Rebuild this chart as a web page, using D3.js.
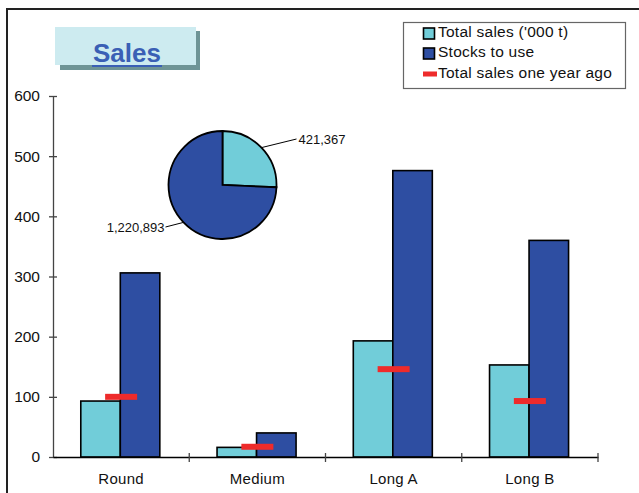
<!DOCTYPE html>
<html><head><meta charset="utf-8">
<script src="https://cdn.jsdelivr.net/npm/d3@7"></script>
<style>body{margin:0;background:#fff}svg{display:block;font-family:Arial,"Liberation Sans",sans-serif}</style>
</head><body>
<svg id="c" width="639" height="493"></svg>
<script>
const categories = ["Round", "Medium", "Long A", "Long B"];
const totalSales = [93, 16, 193, 153];
const stocksToUse = [306, 40, 476, 360];
const salesYearAgo = [100, 17, 146, 93];
const yTicks = [0, 100, 200, 300, 400, 500, 600];
const pieLabels = ["421,367", "1,220,893"];
const pieValues = [421367, 1220893];
const legendLabels = ["Total sales ('000 t)", "Stocks to use", "Total sales one year ago"];

const colLight = "#71CDD9", colDark = "#2E4EA2", colRed = "#EE2B2B";
const svg = d3.select("#c");

// outer frame
svg.append("path").attr("d", "M7,493 V9 H639").attr("fill", "none").attr("stroke", "#222").attr("stroke-width", 2);

const x = d3.scaleBand().domain(categories).range([53, 598]).padding(0);
const y = d3.scaleLinear().domain([0, 600]).range([457, 96]);
const bw = x.bandwidth();

// bars
const g = svg.append("g");
g.selectAll("rect.l").data(categories).join("rect")
  .attr("x", (d) => x(d) + bw * 0.204).attr("width", bw * 0.29)
  .attr("y", (d, i) => y(totalSales[i])).attr("height", (d, i) => y(0) - y(totalSales[i]))
  .attr("fill", colLight).attr("stroke", "#000").attr("stroke-width", 1.6);
g.selectAll("rect.d").data(categories).join("rect")
  .attr("x", (d) => x(d) + bw * 0.494).attr("width", bw * 0.29)
  .attr("y", (d, i) => y(stocksToUse[i])).attr("height", (d, i) => y(0) - y(stocksToUse[i]))
  .attr("fill", colDark).attr("stroke", "#000").attr("stroke-width", 1.6);
g.selectAll("rect.r").data(categories).join("rect")
  .attr("x", (d) => x(d) + bw / 2 - 16).attr("width", 32)
  .attr("y", (d, i) => y(salesYearAgo[i]) - 3).attr("height", 6)
  .attr("fill", colRed);

// axes
const yAxis = svg.append("g").attr("transform", "translate(53,0)")
  .call(d3.axisLeft(y).tickValues(yTicks).tickSize(4).tickSizeOuter(0));
yAxis.select(".domain").attr("stroke", "#444").attr("stroke-width", 1.3);
yAxis.selectAll(".tick line").attr("x2", 4).attr("x1", -4).attr("stroke", "#444").attr("stroke-width", 1.3);
yAxis.selectAll(".tick text").attr("x", -13).attr("font-size", 15.5).attr("fill", "#111").attr("font-family", "Arial, Liberation Sans, sans-serif");

const xAxis = svg.append("g").attr("transform", "translate(0,457)")
  .call(d3.axisBottom(x).tickSize(0).tickSizeOuter(0));
xAxis.select(".domain").attr("stroke", "#000").attr("stroke-width", 1.6);
xAxis.selectAll(".tick text").attr("y", 16).attr("dy", "0.71em").attr("font-size", 15).attr("fill", "#111")
  .attr("letter-spacing", 0.3).attr("font-family", "Arial, Liberation Sans, sans-serif");
svg.append("g").selectAll("line").data(categories).join("line")
  .attr("x1", (d) => x(d) + bw).attr("x2", (d) => x(d) + bw)
  .attr("y1", 453).attr("y2", 462).attr("stroke", "#444").attr("stroke-width", 1.3);

// title box
svg.append("rect").attr("x", 60).attr("y", 31).attr("width", 140).attr("height", 39).attr("fill", "#6E9496");
svg.append("rect").attr("x", 55).attr("y", 27).attr("width", 141).attr("height", 38).attr("fill", "#CDEBF0");
svg.append("text").attr("x", 127).attr("y", 62).attr("text-anchor", "middle")
  .attr("font-size", 26).attr("font-weight", "bold").attr("fill", "#3A5FB5").text("Sales");
svg.append("rect").attr("x", 92).attr("y", 65).attr("width", 70).attr("height", 2).attr("fill", "#3A5FB5");

// pie
const cx = 222.5, cy = 185, r = 54;
const pie = d3.pie().sort(null)(pieValues);
const arc = d3.arc().innerRadius(0).outerRadius(r);
const pg = svg.append("g").attr("transform", `translate(${cx},${cy})`);
pg.selectAll("path").data(pie).join("path").attr("d", arc)
  .attr("fill", (d, i) => i === 0 ? colLight : colDark).attr("stroke", "#000").attr("stroke-width", 1.8);
const outer = d3.arc().innerRadius(r).outerRadius(r);
pie.forEach((d, i) => {
  const [px, py] = outer.centroid(d);
  const lx = i === 0 ? 74 : -57, ly = i === 0 ? -46 : 42;
  pg.append("path").attr("d", `M${px},${py} L${lx},${ly}`).attr("stroke", "#000").attr("stroke-width", 1).attr("fill", "none");
  pg.append("text").attr("x", i === 0 ? lx + 2 : lx - 1).attr("y", ly).attr("dy", "0.35em")
    .attr("text-anchor", i === 0 ? "start" : "end").attr("font-size", 13).attr("fill", "#111").text(pieLabels[i]);
});

// legend
svg.append("rect").attr("x", 403.5).attr("y", 22.5).attr("width", 222).attr("height", 66)
  .attr("fill", "#fff").attr("stroke", "#666").attr("stroke-width", 1.2);
const lg = svg.append("g");
legendLabels.forEach((t, i) => {
  const yy = 33.5 + i * 20;
  if (i < 2) {
    lg.append("rect").attr("x", 423.5).attr("y", yy - 5.5).attr("width", 11).attr("height", 11)
      .attr("fill", i === 0 ? colLight : colDark).attr("stroke", "#000").attr("stroke-width", 1.6);
  } else {
    lg.append("rect").attr("x", 423).attr("y", yy + 0.5 - 2.5).attr("width", 14).attr("height", 5).attr("fill", colRed);
  }
  lg.append("text").attr("x", 438).attr("y", yy - 1.5 + (i === 2 ? 0.5 : 0)).attr("dy", "0.35em").attr("font-size", 15.5)
    .attr("letter-spacing", 0.25).attr("fill", "#111").text(t);
});
</script>
</body></html>
